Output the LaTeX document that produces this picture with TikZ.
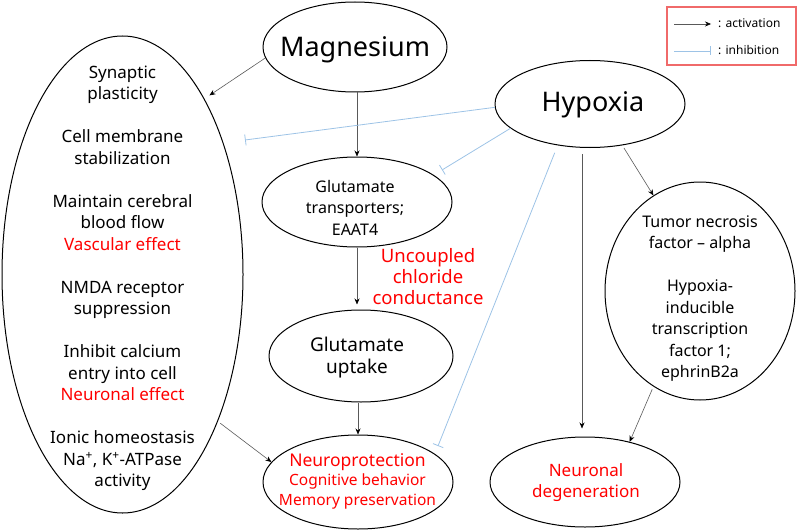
\documentclass[tikz,border=0pt]{standalone}
\usepackage{fontspec}
\setmainfont{Noto Sans}
\usetikzlibrary{shapes.geometric,arrows.meta}
\definecolor{inhblue}{HTML}{9DC3E6}
\definecolor{legred}{HTML}{F06A6A}
\definecolor{txtred}{HTML}{FF0000}
\begin{document}
\begin{tikzpicture}[x=1pt,y=-1pt,
  ell/.style={draw, ellipse, line width=1pt, inner sep=0pt},
  txt/.style={align=center, inner sep=0pt},
  act/.style={draw=black!65, line width=0.6pt, -{Stealth[length=6pt,width=5pt,color=black]}},
  inh/.style={draw=inhblue, line width=0.8pt, -{Bar[width=11pt]}},
  red/.style={text=txtred}]
\useasboundingbox (0,0) rectangle (797,532);
% ellipse shapes
\node[ell, minimum width=184pt, minimum height=90pt] (Mg) at (355,47) {};
\node[ell, minimum width=190pt, minimum height=87pt] (H) at (590,104) {};
\node[ell, minimum width=241pt, minimum height=477pt] (L) at (122.5,274.5) {};
\node[ell, minimum width=190pt, minimum height=90pt] (GT) at (357,202) {};
\node[ell, minimum width=184pt, minimum height=92pt] (GU) at (361,356) {};
\node[ell, minimum width=190pt, minimum height=94pt] (NP) at (358,482) {};
\node[ell, minimum width=190pt, minimum height=218pt] (TNF) at (700,291) {};
\node[ell, minimum width=190pt, minimum height=90pt] (ND) at (585,482) {};
% texts
\node[txt, anchor=base, font=\fontsize{27}{30}\selectfont] (Mg-t) at (355,57) {Magnesium};
\node[txt, anchor=base, font=\fontsize{27}{30}\selectfont] (H-t) at (593,112) {Hypoxia};
\node[txt, font=\fontsize{17}{21.5}\selectfont] (L-t) at (122.5,278.5) {Synaptic\\plasticity\\[21.5pt]Cell membrane\\stabilization\\[21.5pt]Maintain cerebral\\blood flow\\\textcolor{txtred}{Vascular effect}\\[21.5pt]NMDA receptor\\suppression\\[21.5pt]Inhibit calcium\\entry into cell\\\textcolor{txtred}{Neuronal effect}\\[21.5pt]Ionic homeostasis\\Na\textsuperscript{+}, K\textsuperscript{+}-ATPase\\activity};
\node[txt, font=\fontsize{16}{21.5}\selectfont] (GT-t) at (355,207.5) {Glutamate\\transporters;\\EAAT4};
\node[txt, font=\fontsize{19}{21.5}\selectfont] (GU-t) at (357,357.5) {Glutamate\\uptake};
\node[txt, red, font=\fontsize{15.5}{19.5}\selectfont] (NP-t) at (357.5,481) {{\fontsize{17.5}{20}\selectfont Neuroprotection}\\Cognitive behavior\\Memory preservation};
\node[txt, font=\fontsize{16}{21.5}\selectfont] (TNF-t) at (700,298.5) {Tumor necrosis\\factor -- alpha\\[21.5pt]Hypoxia-\\inducible\\transcription\\factor 1;\\ephrinB2a};
\node[txt, red, font=\fontsize{17}{21}\selectfont] (ND-t) at (586,483) {Neuronal\\degeneration};
\node[txt, red, font=\fontsize{18.5}{21}\selectfont] (UC) at (428,277) {Uncoupled\\chloride\\conductance};
% free ends of inhibitions
\coordinate (iL) at (245,140);
\coordinate (iGT) at (442,170);
\coordinate (iNP) at (438,446);
% activations
\draw[act, shorten >=6pt] (Mg.187) -- (L.65);
\draw[act] (Mg.south -| GT.north) -- (GT.north);
\draw[act, shorten >=5pt] (GT.south) -- (GT.south |- GU.north);
\draw[act] (GU.south -| NP.north) -- (NP.north);
\draw[act, shorten <=3pt] (L.-57) -- (NP.167);
\draw[act, shorten <=6pt, shorten >=8pt] ([xshift=-3pt]ND.north |- H.south) -- ([xshift=-3pt]ND.north);
\draw[act, shorten <=3pt] (H.-52) -- (TNF.116);
\draw[act, shorten <=3pt] (TNF.244) -- (ND.42);
% inhibitions
\draw[inh] (H.182) -- (iL);
\draw[inh] (H.197) -- (iGT);
\draw[inh, shorten <=8pt] (H.232) -- (iNP);
% legend
\node[draw=legred, line width=1.2pt, minimum width=129pt, minimum height=58pt, inner sep=0pt] (leg) at (731.5,36) {};
\coordinate (a1) at (674,24);
\coordinate (a2) at (711,24);
\coordinate (b1) at (674,51);
\coordinate (b2) at (711,51);
\draw[act] (a1) -- (a2);
\draw[inh, -{Bar[width=9pt]}] (b1) -- (b2);
\node[anchor=base west, font=\fontsize{12}{14}\selectfont, inner sep=0pt] (la) at (718,28) {: activation};
\node[anchor=base west, font=\fontsize{12}{14}\selectfont, inner sep=0pt] (lb) at (718,55) {: inhibition};
\end{tikzpicture}
\end{document}
